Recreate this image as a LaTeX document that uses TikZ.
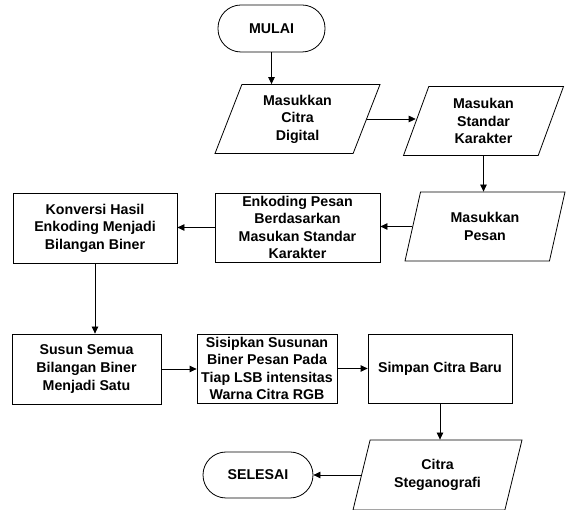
\documentclass[tikz,border=0pt]{standalone}
\usepackage{fontspec}
\setmainfont{Liberation Sans}
\usetikzlibrary{shapes.geometric,arrows.meta}
\begin{document}
\begin{tikzpicture}[x=1pt,y=-1pt,
  every node/.style={font=\bfseries\fontsize{14.2}{17.6}\selectfont, align=center, inner sep=0pt},
  line/.style={line width=0.8pt},
  arr/.style={line, -{Triangle[length=7pt,width=6.5pt]}},
  term/.style={draw, line width=0.8pt, rectangle, rounded corners=23pt},
  proc/.style={draw, line width=0.8pt, rectangle},
  io/.style={draw, line width=0.8pt, trapezium, trapezium left angle=61, trapezium right angle=119,
    trapezium stretches body=true, minimum height=69pt, minimum width=165pt}
]
\useasboundingbox (0,0) rectangle (574,510);
\node[term, minimum width=107pt, minimum height=47pt] (mulai) at (271.5,28.5) {MULAI};
\node[io] (p1) at (297.5,119) {Masukkan\\Citra\\Digital};
\node[io, minimum width=160pt] (p2) at (483.5,121) {Masukan\\Standar\\Karakter};
\node[io, minimum width=160pt] (p3) at (485,226.5) {Masukkan\\Pesan};
\node[proc, minimum width=165pt, minimum height=69pt] (e) at (297.5,227.5) {Enkoding Pesan\\Berdasarkan\\Masukan Standar\\Karakter};
\node[proc, minimum width=164pt, minimum height=70pt] (k) at (95,228) {Konversi Hasil\\Enkoding Menjadi\\Bilangan Biner};
\node[proc, minimum width=149pt, minimum height=70pt] (s) at (86.5,369) {Susun Semua\\Bilangan Biner\\Menjadi Satu};
\node[proc, minimum width=140pt, minimum height=69pt] (l) at (267,368.5) {Sisipkan Susunan\\Biner Pesan Pada\\Tiap LSB intensitas\\Warna Citra RGB};
\node[proc, minimum width=144pt, minimum height=69pt] (b) at (440,368.5) {Simpan Citra Baru};
\node[io, minimum width=169pt, minimum height=70pt] (c) at (437.5,475) {Citra\\Steganografi};
\node[term, minimum width=110pt, minimum height=46pt] (selesai) at (258,475) {SELESAI};

\draw[arr] (mulai.south) -- (mulai.south |- p1.north);
\draw[arr] (p1.east) -- (p1.east -| p2.west);
\draw[arr] (p2.south) -- (p2.south |- p3.north);
\draw[arr] (p3.west) -- (p3.west -| e.east);
\draw[arr] (e.west) -- (e.west -| k.east);
\draw[arr] (k.south) -- (k.south |- s.north);
\draw[arr] (s.east) -- (s.east -| l.west);
\draw[arr] (l.east) -- (l.east -| b.west);
\draw[arr] (b.south) -- (b.south |- c.north);
\draw[arr] (c.west) -- (c.west -| selesai.east);
\end{tikzpicture}
\end{document}
